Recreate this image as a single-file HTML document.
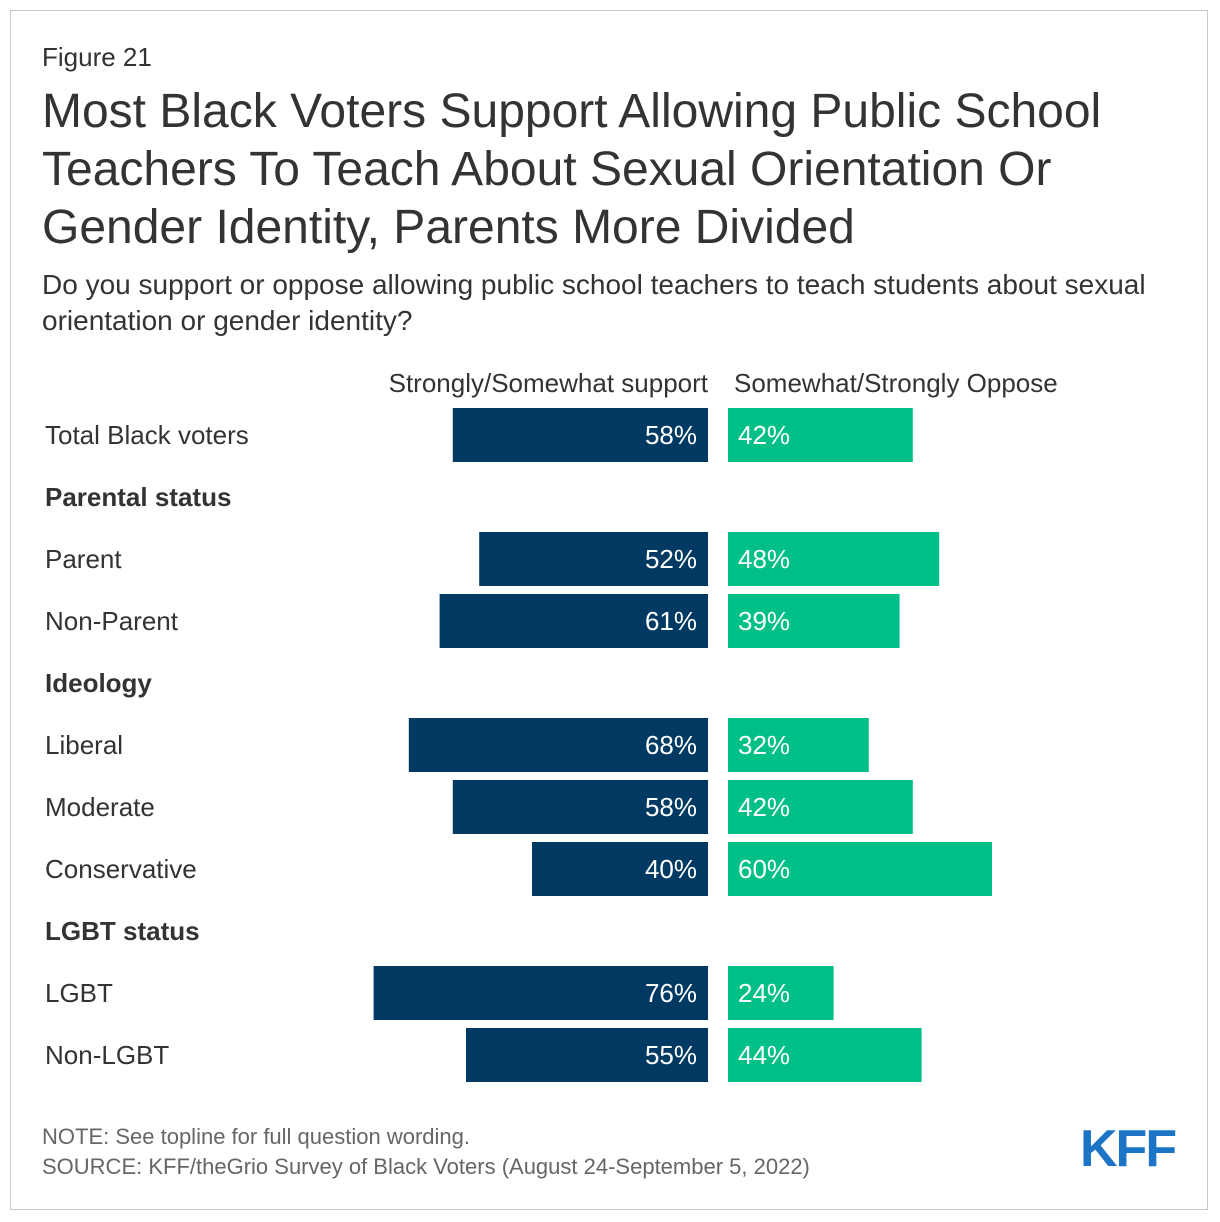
<!DOCTYPE html>
<html><head><meta charset="utf-8"><style>
body{margin:0;background:#fff;font-family:"Liberation Sans",Arial,sans-serif;color:#333}
#frame{position:absolute;left:10px;top:10px;width:1198px;height:1200px;border:1px solid #c8c8c8;box-sizing:border-box}
.t{position:absolute;white-space:nowrap}
</style></head><body>
<div id="frame"></div>
<div class="t" style="left:42px;top:42px;font-size:26px">Figure 21</div>
<div class="t" style="left:42px;top:83px;font-size:48px;line-height:58px;color:#333">Most Black Voters Support Allowing Public School<br>Teachers To Teach About Sexual Orientation Or<br>Gender Identity, Parents More Divided</div>
<div class="t" style="left:42px;top:267px;font-size:28px;line-height:36px">Do you support or oppose allowing public school teachers to teach students about sexual<br>orientation or gender identity?</div>
<svg id="chart" width="1220" height="1222" style="position:absolute;left:0;top:0">
<text x="708" y="392" text-anchor="end" font-size="26" fill="#333">Strongly/Somewhat support</text>
<text x="734" y="392" font-size="26" fill="#333">Somewhat/Strongly Oppose</text>
</svg>
<div class="t" style="left:42px;top:1124px;font-size:22px;color:#666">NOTE: See topline for full question wording.</div>
<div class="t" style="left:42px;top:1154px;font-size:22px;color:#666">SOURCE: KFF/theGrio Survey of Black Voters (August 24-September 5, 2022)</div>
<div class="t" style="left:1080px;top:1119px;font-size:52px;font-weight:bold;color:#1b74c5;letter-spacing:-2px">KFF</div>
<script>
const categories=["Total Black voters","Parental status","Parent","Non-Parent","Ideology","Liberal","Moderate","Conservative","LGBT status","LGBT","Non-LGBT"];
const isHeader=[false,true,false,false,true,false,false,false,true,false,false];
const support=[58,null,52,61,null,68,58,40,null,76,55];
const oppose=[42,null,48,39,null,32,42,60,null,24,44];
const svg=document.getElementById('chart');
const NS='http://www.w3.org/2000/svg';
const sx=v=>v*4.4;
const y0=435,pitch=62,bh=54,cL=708,cR=728;
function mk(tag,attrs){const e=document.createElementNS(NS,tag);for(const k in attrs)e.setAttribute(k,attrs[k]);svg.appendChild(e);return e;}
categories.forEach((c,i)=>{
  const yc=y0+i*pitch;
  const lab=mk('text',{x:45,y:yc+9,'font-size':26,fill:'#333','font-weight':isHeader[i]?'bold':'normal'});
  lab.textContent=c;
  
  
  if(isHeader[i])return;
  const w1=sx(support[i]);
  const r1=mk('rect',{x:cL-w1,y:yc-bh/2,width:w1,height:bh,fill:'#003a63'});
  
  
  const t1=mk('text',{x:cL-11,y:yc+9,'text-anchor':'end','font-size':26,fill:'#fff'});
  t1.textContent=support[i]+'%';
  
  
  const w2=sx(oppose[i]);
  const r2=mk('rect',{x:cR,y:yc-bh/2,width:w2,height:bh,fill:'#00bf87'});
  
  
  const t2=mk('text',{x:cR+10,y:yc+9,'font-size':26,fill:'#fff'});
  t2.textContent=oppose[i]+'%';
  
  
});
</script>
</body></html>
